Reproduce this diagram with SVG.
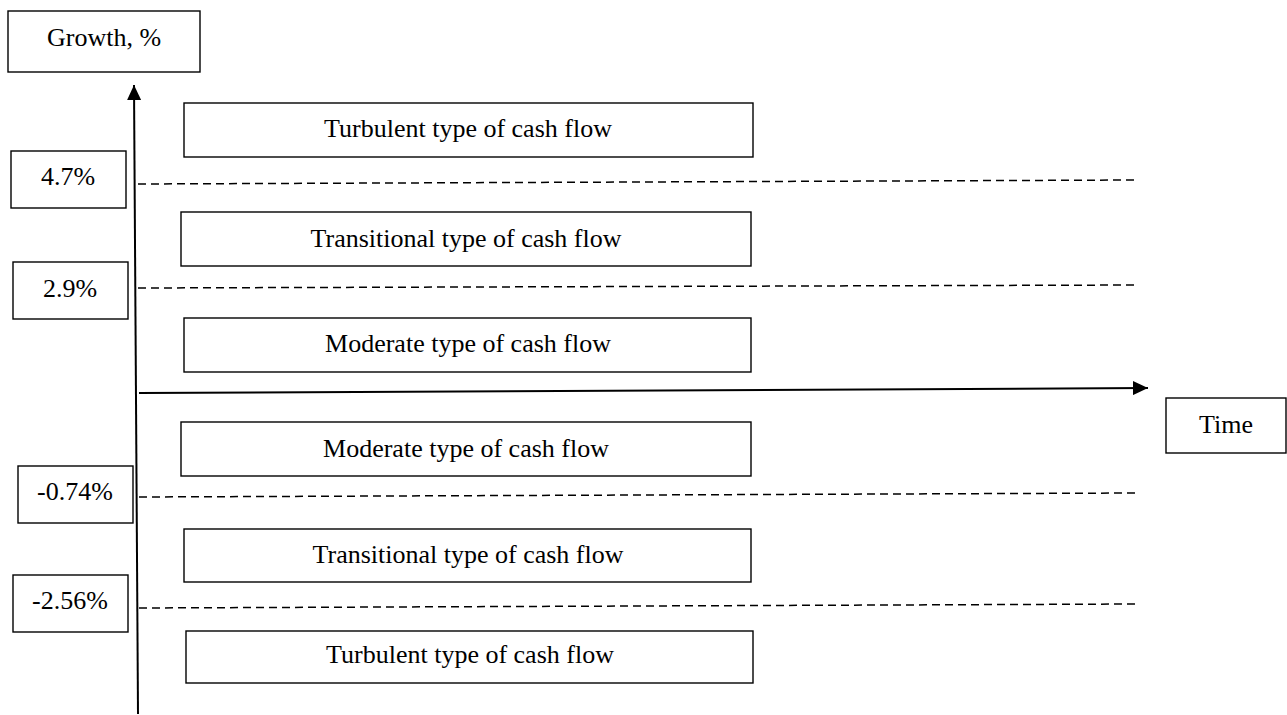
<svg xmlns="http://www.w3.org/2000/svg" width="1287" height="715" viewBox="0 0 1287 715">
<style>
.box{fill:#fff;stroke:#000;stroke-width:1.4}
.t{font-family:"Liberation Serif","Times New Roman",serif;font-size:26px;fill:#000;text-anchor:middle}
.dash{stroke:#000;stroke-width:1.5;stroke-dasharray:8,5;fill:none}
.axis{stroke:#000;stroke-width:2;fill:none}
</style>
<defs>
<marker id="arr" markerUnits="userSpaceOnUse" markerWidth="15" markerHeight="14" viewBox="0 0 15 14" refX="15" refY="7" orient="auto">
<path d="M0,0 L15,7 L0,14 z" fill="#000"/>
</marker>
</defs>
<g id="connectors">
<path class="axis" d="M138,714 L134,85" marker-end="url(#arr)"/>
<path class="axis" d="M139,393 L1148,388" marker-end="url(#arr)"/>
<path class="dash" d="M138,184 L1138,180"/>
<path class="dash" d="M138,288 L1137,285"/>
<path class="dash" d="M139,497 L1138,493"/>
<path class="dash" d="M139,608 L1138,604"/>
</g>
<g id="growth"><rect class="box" x="8" y="11" width="192" height="61"/><text class="t" x="104" y="46">Growth, %</text></g>
<g id="time"><rect class="box" x="1166" y="398" width="120" height="55"/><text class="t" x="1226" y="433">Time</text></g>
<g id="v47"><rect class="box" x="11" y="151" width="115" height="57"/><text class="t" x="68" y="185">4.7%</text></g>
<g id="v29"><rect class="box" x="13" y="262" width="115" height="57"/><text class="t" x="70" y="297">2.9%</text></g>
<g id="vm074"><rect class="box" x="18" y="466" width="115" height="57"/><text class="t" x="75" y="500">-0.74%</text></g>
<g id="vm256"><rect class="box" x="13" y="575" width="115" height="57"/><text class="t" x="70" y="609">-2.56%</text></g>
<g id="turbTop"><rect class="box" x="184" y="103" width="569" height="54"/><text class="t" x="468" y="137">Turbulent type of cash flow</text></g>
<g id="transTop"><rect class="box" x="181" y="212" width="570" height="54"/><text class="t" x="466" y="247">Transitional type of cash flow</text></g>
<g id="modTop"><rect class="box" x="184" y="318" width="567" height="54"/><text class="t" x="468" y="352">Moderate type of cash flow</text></g>
<g id="modBot"><rect class="box" x="181" y="422" width="570" height="54"/><text class="t" x="466" y="457">Moderate type of cash flow</text></g>
<g id="transBot"><rect class="box" x="184" y="529" width="567" height="53"/><text class="t" x="468" y="563">Transitional type of cash flow</text></g>
<g id="turbBot"><rect class="box" x="186" y="631" width="567" height="52"/><text class="t" x="470" y="663">Turbulent type of cash flow</text></g>
</svg>
